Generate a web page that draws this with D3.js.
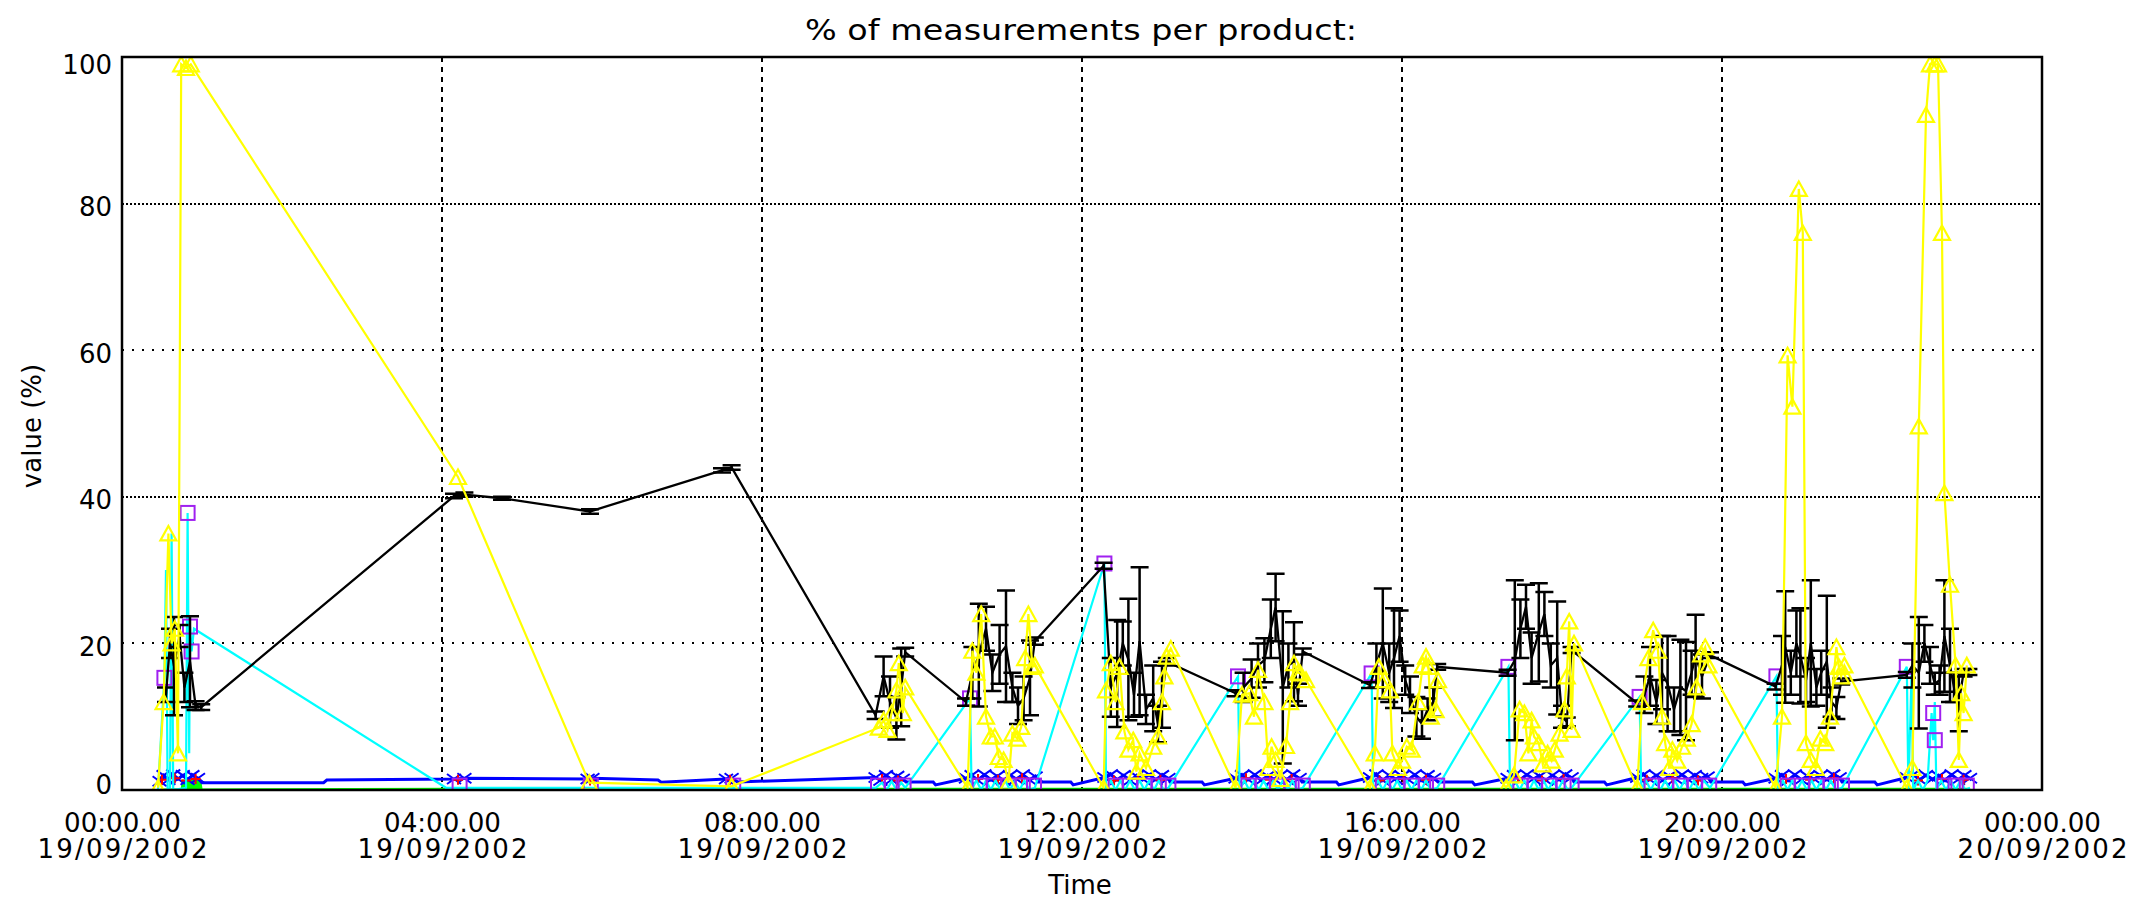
<!DOCTYPE html>
<html><head><meta charset="utf-8">
<script src="https://cdn.jsdelivr.net/npm/d3@7"></script>
<style>html,body{margin:0;padding:0;background:#fff;} svg{display:block;}</style>
</head><body>
<svg id="chart" width="2136" height="899"></svg>
<script>
// ---------------- DATA (time in hours after 00:00 19/09/2002, values in %) ----------------
const titleText = "% of measurements per product:";
const xTickHours = [0, 4, 8, 12, 16, 20, 24];
const yTicks = [0, 20, 40, 60, 80, 100];

// black series with error bars
const blackHours = [0.55,0.60,0.65,0.72,0.78,0.85,0.92,0.99,
  4.15,4.28,4.75,5.85,7.50,7.62,
  9.42,9.52,9.60,9.68,9.74,9.79,
  10.55,10.63,10.71,10.80,10.88,10.97,11.05,11.13,11.20,11.27,11.35,11.41,
  12.27,12.36,12.44,12.51,12.58,12.65,12.72,12.80,12.89,12.95,13.00,13.06,
  13.92,14.02,14.12,14.20,14.28,14.36,14.42,14.51,14.58,14.65,14.70,14.76,
  15.60,15.68,15.76,15.84,15.90,15.97,16.04,16.10,16.18,16.25,16.32,16.39,16.44,
  17.32,17.41,17.48,17.55,17.62,17.71,17.78,17.86,17.94,18.00,18.06,18.12,
  18.94,19.03,19.10,19.18,19.25,19.32,19.40,19.48,19.55,19.62,19.67,19.75,19.85,
  20.67,20.75,20.79,20.86,20.93,20.98,21.05,21.11,21.18,21.24,21.31,21.37,21.43,21.49,
  22.31,22.38,22.46,22.53,22.60,22.66,22.72,22.78,22.85,22.90,22.96,23.02,23.08];
const blackValues = [13,20,16.9,21,14,17.5,11.5,11.3,
  40.1,40.3,39.8,38.0,43.6,44.0,
  10.2,15.5,12.0,9.8,14.0,18.8,
  12.0,16,18.4,22,16,18.5,19.6,14,11.5,12.5,15.3,20.3,
  30.6,14,15.9,20,17.8,13,20.3,11,12.5,9,13,17.5,
  13.2,14,15.2,17,17.7,22,24.9,14,17,17.5,13,18.9,
  14.3,17,20,16,18,21,15,13,10,9,11,12,16.8,
  16.0,17.7,22,25,18,21.5,24,17,18,10,9.3,19.1,
  11.8,13,15.5,12,16,14.5,11,14,13.5,16,18.3,15.5,18.4,
  14.1,17,19.5,16,20,18.3,15,20,14,16,17.5,12,11.2,14.8,
  15.7,17,16,20,17,14.5,15,21,17,14,12,16,16.1];
const blackErrors = [1,2,6.7,1.5,2,6.2,0.6,0.4,
  0.3,0.3,0.2,0.3,0.3,0.3,
  0.5,2.7,3.5,2.9,5.3,0.6,
  0.5,3.5,7,3,2.5,4,7.6,2,2.5,3,5.1,0.5,
  0.4,4,7.3,3,8.3,3,10.1,2,4.5,2.5,4.5,0.5,
  0.4,2,2.6,3,3,4,4.6,10.4,3,5.4,1.5,0.4,
  0.4,3,7.5,4,6.8,3.5,2,2.5,2.7,2,1.5,2,0.4,
  0.4,10.9,4,3,3.5,6.7,3,3,7.7,1.5,0.6,0.4,
  0.4,2.5,4,3,5,6.5,3,6.5,6.7,3,5.6,3,0.4,
  0.4,4,7.6,3,4.5,6.5,3,8.6,2.5,3,9,2,1.5,0.4,
  0.4,3,7.6,2.5,2.5,1.5,2,7.6,5,2,4,0.5,0.4];

// yellow series (triangles)
const yellowHours = [0.45,0.52,0.58,0.62,0.66,0.70,0.74,0.80,0.86,
  4.20,5.84,7.62,
  9.46,9.52,9.57,9.62,9.68,9.71,9.76,9.79,
  10.57,10.63,10.68,10.74,10.80,10.86,10.91,10.96,11.02,11.08,11.13,11.19,11.24,11.29,11.33,11.38,11.41,
  12.27,12.30,12.36,12.42,12.47,12.53,12.58,12.64,12.68,12.72,12.80,12.89,12.95,13.00,13.03,13.06,13.11,
  13.92,14.00,14.09,14.15,14.20,14.28,14.33,14.37,14.42,14.48,14.55,14.60,14.65,14.70,14.73,14.80,
  15.60,15.66,15.71,15.78,15.85,15.88,15.95,16.00,16.06,16.12,16.20,16.26,16.30,16.33,16.36,16.42,16.45,
  17.30,17.40,17.47,17.53,17.58,17.62,17.65,17.71,17.76,17.82,17.87,17.91,17.97,18.03,18.06,18.09,18.12,18.15,
  18.94,19.00,19.08,19.14,19.20,19.25,19.29,19.34,19.38,19.44,19.50,19.56,19.62,19.68,19.74,19.79,19.83,
  20.67,20.75,20.82,20.88,20.96,21.01,21.05,21.11,21.17,21.23,21.29,21.35,21.43,21.46,21.49,21.53,
  22.31,22.38,22.46,22.55,22.60,22.66,22.70,22.75,22.78,22.85,22.92,22.96,22.99,23.02,23.06];
const yellowValues = [0.3,12,35,20,22,5,99,98.5,99,
  42.7,1.0,0.5,
  8.5,9.5,8.2,10.5,13.6,17.3,10.5,14.0,
  0.3,19,16,24,10,7.3,7.3,4.5,4.1,1,7.7,7,8.6,18,24,16.8,17,
  0.3,13.6,17.3,12,16.8,8,5.5,6.8,2.5,5,3,5.9,7.3,12,15.5,18.2,19.3,
  0.3,13,13.2,10,16.4,12,3,5.9,4.1,1.5,6,12,17.3,16,15.9,15,
  0.3,5,16.8,15,13.6,5,3,4,5.9,5.5,12,17,18.2,16.8,10,10.9,15,
  0.3,2,11,10.5,5,9.5,7.3,6.4,3.5,5,4,5.5,7.7,11,15.5,23,8.2,20,
  0.3,12,18,21.8,19,10,6.4,3,5.5,4,5.9,7,9,14,18.5,19.5,17,
  0.3,10,59.3,52.3,82,76,6.4,4.1,3,7,6.4,10,19.5,16.8,15.5,17,
  0.3,3,49.6,92.1,99,99,99,76,40.5,28,17,4.1,13.2,10.5,17];

// cyan series (line only)
const cyanHours = [0.45,0.53,0.55,0.57,0.60,0.62,0.64,0.80,0.82,0.84,0.85,0.87,0.90,
  4.05,5.84,7.62,
  9.42,9.50,9.56,9.62,9.68,9.74,9.79,
  10.60,10.62,10.68,10.74,10.80,10.86,10.92,10.98,11.04,11.10,11.16,11.22,11.28,11.34,11.41,
  12.28,12.30,12.36,12.42,12.48,12.54,12.60,12.66,12.72,12.78,12.84,12.90,12.96,13.02,13.08,
  13.95,13.97,14.03,14.09,14.15,14.21,14.27,14.33,14.39,14.45,14.51,14.57,14.63,14.69,14.76,
  15.62,15.64,15.70,15.76,15.82,15.88,15.94,16.00,16.06,16.12,16.18,16.24,16.30,16.36,16.44,
  17.33,17.35,17.41,17.47,17.53,17.59,17.65,17.71,17.77,17.83,17.89,17.95,18.01,18.07,18.12,
  18.97,18.99,19.05,19.11,19.17,19.23,19.29,19.35,19.41,19.47,19.53,19.59,19.65,19.71,19.77,19.85,
  20.68,20.70,20.76,20.82,20.88,20.94,21.00,21.06,21.12,21.18,21.24,21.30,21.36,21.42,21.50,
  22.31,22.33,22.37,22.39,22.45,22.51,22.57,22.62,22.64,22.66,22.68,22.74,22.80,22.86,22.92,22.98,23.04,23.10];
const cyanValues = [0,15.3,30,0,0.3,35,0,0.3,37.8,5,22.3,18.9,22,
  0.3,0.3,0.3,
  0.3,1,0,1.2,0,1,0.3,
  12.5,0,1.3,0,1.3,0,1.3,0,1.3,0,1.3,0,1.3,0,0.3,
  30.9,0,1.3,0,1.3,0,1.3,0,1.3,0,1.3,0,1.3,0,0.3,
  15.5,0,1.3,0,1.3,0,1.3,0,1.3,0,1.3,0,1.3,0,0.3,
  15.9,0,1.3,0,1.3,0,1.3,0,1.3,0,1.3,0,1.3,0,0.3,
  16.8,0,1.3,0,1.3,0,1.3,0,1.3,0,1.3,0,1.3,0,0.3,
  12.7,0,1.3,0,1.3,0,1.3,0,1.3,0,1.3,0,1.3,0,1.3,0.3,
  15.5,0,1.3,0,1.3,0,1.3,0,1.3,0,1.3,0,1.3,0,0.3,
  16.8,0,16,0,1.3,0,1.3,10.5,6.8,12,0,1.3,0,1.3,0,1.3,0,0.3];

// purple series (squares, no line)
const purpleHours = [0.53,0.82,0.85,0.87,
  4.22,5.86,7.64,
  9.45,9.62,9.77,
  10.60,10.72,10.90,11.08,11.26,11.40,
  12.28,12.42,12.60,12.78,12.96,13.08,
  13.95,14.08,14.26,14.44,14.62,14.76,
  15.62,15.76,15.94,16.12,16.30,16.44,
  17.33,17.48,17.66,17.84,18.02,18.12,
  18.97,19.12,19.30,19.48,19.66,19.84,
  20.68,20.82,21.00,21.18,21.36,21.50,
  22.31,22.64,22.66,22.78,22.92,23.06];
const purpleValues = [15.3,37.8,22.3,18.9,
  0.6,0.6,0.6,
  0.6,0.6,0.6,
  12.5,0.6,0.6,0.6,0.6,0.6,
  30.9,0.6,0.6,0.6,0.6,0.6,
  15.5,0.6,0.6,0.6,0.6,0.6,
  15.9,0.6,0.6,0.6,0.6,0.6,
  16.8,0.6,0.6,0.6,0.6,0.6,
  12.7,0.6,0.6,0.6,0.6,0.6,
  15.5,0.6,0.6,0.6,0.6,0.6,
  16.8,10.5,6.8,0.6,0.6,0.6];

// blue series: measured points (with X markers) and intermediate points (line only)
const blueHours = [0.47,0.52,0.58,0.64,0.70,0.76,0.82,0.88,0.95,
  4.15,4.28,5.82,5.88,7.55,7.62,
  9.42,9.48,9.55,9.62,9.69,9.76,
  10.55,10.62,10.70,10.78,10.86,10.94,11.02,11.10,11.18,11.26,11.34,11.42,
  12.28,12.36,12.44,12.52,12.60,12.68,12.76,12.84,12.92,13.00,13.08,
  13.92,14.00,14.08,14.16,14.24,14.32,14.40,14.48,14.56,14.64,14.72,
  15.60,15.68,15.76,15.84,15.92,16.00,16.08,16.16,16.24,16.32,16.40,
  17.32,17.40,17.48,17.56,17.64,17.72,17.80,17.88,17.96,18.04,18.12,
  18.94,19.02,19.10,19.18,19.26,19.34,19.42,19.50,19.58,19.66,19.74,19.82,
  20.67,20.75,20.83,20.91,20.99,21.07,21.15,21.23,21.31,21.39,21.47,
  22.31,22.39,22.47,22.55,22.63,22.71,22.79,22.87,22.95,23.03,23.10];
const blueValues = [1.2,2.0,1.4,2.1,1.5,2.0,1.4,2.0,1.6,
  1.5,1.6,1.5,1.6,1.5,1.6,
  1.7,1.3,2.0,1.4,1.9,1.5,
  1.6,2.0,1.3,2.1,1.4,1.9,1.3,2.0,1.5,2.1,1.4,1.8,
  1.7,2.1,1.4,2.0,1.3,1.9,1.5,2.1,1.4,2.0,1.6,
  1.6,2.0,1.4,2.1,1.3,1.9,1.5,2.0,1.4,2.1,1.6,
  1.7,2.1,1.3,2.0,1.5,1.9,1.4,2.1,1.3,2.0,1.6,
  1.6,2.0,1.4,2.1,1.5,1.9,1.3,2.0,1.4,2.1,1.7,
  1.7,2.1,1.4,2.0,1.3,1.9,1.5,2.1,1.4,2.0,1.6,1.8,
  1.6,2.0,1.3,2.1,1.4,1.9,1.5,2.0,1.4,2.1,1.7,
  1.7,2.1,1.4,2.0,1.5,1.9,1.3,2.1,1.4,2.0,1.6];
const blueStepHours = [1.00,2.52,2.56,6.70,6.74,7.70,9.80,10.14,10.17,11.45,11.86,11.89,13.10,13.50,13.53,
  14.75,15.18,15.21,16.45,16.88,16.91,18.15,18.53,18.56,19.86,20.26,20.29,21.50,21.91,21.94];
const blueStepValues = [1.0,1.0,1.36,1.36,1.05,1.1,1.1,1.1,0.7,1.1,1.1,0.7,1.1,1.1,0.7,
  1.1,1.1,0.7,1.1,1.1,0.7,1.1,1.1,0.7,1.1,1.1,0.7,1.1,1.1,0.7];

// red series (plus markers)
const redHours = [0.50,0.66,0.80,0.92, 4.20, 5.85, 7.60, 9.50,9.70,
  10.70,10.95,11.25, 12.40,12.70,12.98, 14.05,14.35,14.62, 15.72,16.02,16.30,
  17.45,17.75,18.02, 19.06,19.38,19.70, 20.80,21.10,21.40, 22.45,22.75,23.02];
const redValues = [1.4,1.6,1.3,1.5, 1.4, 1.3, 1.4, 1.5,1.3,
  1.5,1.4,1.6, 1.3,1.5,1.4, 1.6,1.4,1.5, 1.3,1.5,1.4,
  1.6,1.3,1.5, 1.4,1.6,1.3, 1.5,1.4,1.6, 1.3,1.5,1.4];

// green series (line)
const greenHours = [0.48,0.75,0.77,0.79,0.81,0.83,0.85,0.87,0.89,0.91,0.93,0.95,0.97,0.99,4.10,9.40,23.10];
const greenValues = [0,0,1.4,0,1.4,0,1.4,0,1.4,0,1.4,0,1.4,0,0.1,0.1,0.1];

// ---------------- CHART ----------------
const FONT = "'DejaVu Sans', 'Liberation Sans', Arial, sans-serif";
const svg = d3.select("#chart");
const X0 = 122, X1 = 2042, Y0 = 790, Y1 = 57;
const T0 = Date.UTC(2002, 8, 19, 0, 0, 0);
const toDate = h => new Date(T0 + h * 3600000);
const x = d3.scaleUtc().domain([toDate(0), toDate(24)]).range([X0, X1]);
const y = d3.scaleLinear().domain([0, 100]).range([Y0, Y1]);

const pts = (hs, vs) => d3.zip(hs, vs).map(([h, v]) => ({t: toDate(h), v}));

svg.append("rect").attr("width", 2136).attr("height", 899).attr("fill", "#fff");

// gridlines
const gGrid = svg.append("g").attr("shape-rendering", "crispEdges");
gGrid.selectAll("line.v").data(xTickHours.slice(1, -1)).join("line")
  .attr("x1", d => x(toDate(d))).attr("x2", d => x(toDate(d)))
  .attr("y1", Y1).attr("y2", Y0)
  .attr("stroke", "#000").attr("stroke-width", 2).attr("stroke-dasharray", "5,5");
gGrid.selectAll("line.h").data(yTicks.slice(1, -1)).join("line")
  .attr("x1", X0).attr("x2", X1)
  .attr("y1", d => y(d)).attr("y2", d => y(d))
  .attr("stroke", "#000").attr("stroke-width", 2)
  .attr("stroke-dasharray", d => (d % 40 === 0) ? "2,2" : "2,8");

// clip
svg.append("defs").append("clipPath").attr("id", "plotclip")
  .append("rect").attr("x", X0).attr("y", Y1).attr("width", X1 - X0).attr("height", Y0 - Y1);
const plot = svg.append("g").attr("clip-path", "url(#plotclip)");

const line = d3.line().x(d => x(d.t)).y(d => y(d.v));

// green
plot.append("path").datum(pts(greenHours, greenValues)).attr("d", line)
  .attr("fill", "none").attr("stroke", "#00ff00").attr("stroke-width", 3);

// blue line + X markers
const blueMarks = pts(blueHours, blueValues);
const blueAll = blueMarks.concat(pts(blueStepHours, blueStepValues)).sort((a, b) => a.t - b.t);
plot.append("path").datum(blueAll).attr("d", line)
  .attr("fill", "none").attr("stroke", "#0000ff").attr("stroke-width", 3);
plot.append("g").selectAll("path").data(blueMarks).join("path")
  .attr("d", d => { const cx = x(d.t), cy = y(d.v);
    return `M${cx-7},${cy-5}L${cx+7},${cy+5}M${cx-7},${cy+5}L${cx+7},${cy-5}`; })
  .attr("stroke", "#0000ff").attr("stroke-width", 2).attr("fill", "none");

// red plus markers
plot.append("g").selectAll("path").data(pts(redHours, redValues)).join("path")
  .attr("d", d => { const cx = x(d.t), cy = y(d.v);
    return `M${cx},${cy-5}L${cx},${cy+5}M${cx-5},${cy}L${cx+5},${cy}`; })
  .attr("stroke", "#ff0000").attr("stroke-width", 2).attr("fill", "none");

// cyan
plot.append("path").datum(pts(cyanHours, cyanValues)).attr("d", line)
  .attr("fill", "none").attr("stroke", "#00ffff").attr("stroke-width", 2.2);

// purple squares
plot.append("g").selectAll("rect").data(pts(purpleHours, purpleValues)).join("rect")
  .attr("x", d => x(d.t) - 7).attr("y", d => y(d.v) - 7)
  .attr("width", 14).attr("height", 14)
  .attr("fill", "none").attr("stroke", "#a020f0").attr("stroke-width", 2);

// black line + error bars
const blackPts = d3.zip(blackHours, blackValues, blackErrors).map(([h, v, e]) => ({t: toDate(h), v, e}));
plot.append("path").datum(blackPts).attr("d", line)
  .attr("fill", "none").attr("stroke", "#000").attr("stroke-width", 2.3);
plot.append("g").selectAll("path").data(blackPts).join("path")
  .attr("d", d => { const cx = x(d.t), lo = y(d.v - d.e), hi = y(d.v + d.e);
    return `M${cx},${lo}L${cx},${hi}M${cx-9},${lo}L${cx+9},${lo}M${cx-9},${hi}L${cx+9},${hi}`; })
  .attr("stroke", "#000").attr("stroke-width", 2.5).attr("fill", "none");

// yellow line + triangles
const yellowPts = pts(yellowHours, yellowValues);
plot.append("path").datum(yellowPts).attr("d", line)
  .attr("fill", "none").attr("stroke", "#ffff00").attr("stroke-width", 2.2);
plot.append("g").selectAll("path").data(yellowPts).join("path")
  .attr("d", d => { const cx = x(d.t), cy = y(d.v);
    return `M${cx},${cy-7.5}L${cx+8},${cy+7}L${cx-8},${cy+7}Z`; })
  .attr("stroke", "#ffff00").attr("stroke-width", 2.2).attr("fill", "none");

// frame
svg.append("rect").attr("x", X0).attr("y", Y1).attr("width", X1 - X0).attr("height", Y0 - Y1)
  .attr("fill", "none").attr("stroke", "#000").attr("stroke-width", 2.5);

// y axis
const gy = svg.append("g").attr("transform", `translate(${X0},0)`)
  .call(d3.axisLeft(y).tickValues(yTicks).tickSize(0).tickPadding(10).tickFormat(d3.format("d")));
gy.select(".domain").remove();
gy.selectAll("text").attr("font-family", FONT).attr("font-size", 26).attr("fill", "#000")
  .attr("dy", d => d === 100 ? 16 : (d === 0 ? 3.5 : 12));

// x axis with two-line labels
const fmtTime = d3.utcFormat("%H:%M.%S");
const fmtDate = d3.utcFormat("%d/%m/%Y");
const gx = svg.append("g").attr("transform", `translate(0,${Y0})`)
  .call(d3.axisBottom(x).tickValues(xTickHours.map(toDate)).tickSize(0).tickFormat(""));
gx.select(".domain").remove();
gx.selectAll(".tick").each(function(d) {
  const g = d3.select(this);
  g.select("text").remove();
  g.append("text").attr("y", 42).attr("text-anchor", "middle")
    .attr("font-family", FONT).attr("font-size", 26).attr("fill", "#000")
    .attr("textLength", 117).attr("lengthAdjust", "spacingAndGlyphs").text(fmtTime(d));
  g.append("text").attr("y", 68).attr("text-anchor", "middle")
    .attr("font-family", FONT).attr("font-size", 26).attr("fill", "#000")
    .attr("textLength", 170).attr("lengthAdjust", "spacing").text(fmtDate(d));
});

// titles
svg.append("text").attr("x", 1081).attr("y", 40).attr("text-anchor", "middle")
  .attr("font-family", FONT).attr("font-size", 28).attr("fill", "#000")
  .attr("textLength", 552).attr("lengthAdjust", "spacingAndGlyphs").text(titleText);
svg.append("text").attr("x", 1080).attr("y", 894).attr("text-anchor", "middle")
  .attr("font-family", FONT).attr("font-size", 26).attr("fill", "#000").text("Time");
svg.append("text").attr("transform", "translate(41,426) rotate(-90)").attr("text-anchor", "middle")
  .attr("font-family", FONT).attr("font-size", 26).attr("fill", "#000").text("value (%)");
</script>
</body></html>
